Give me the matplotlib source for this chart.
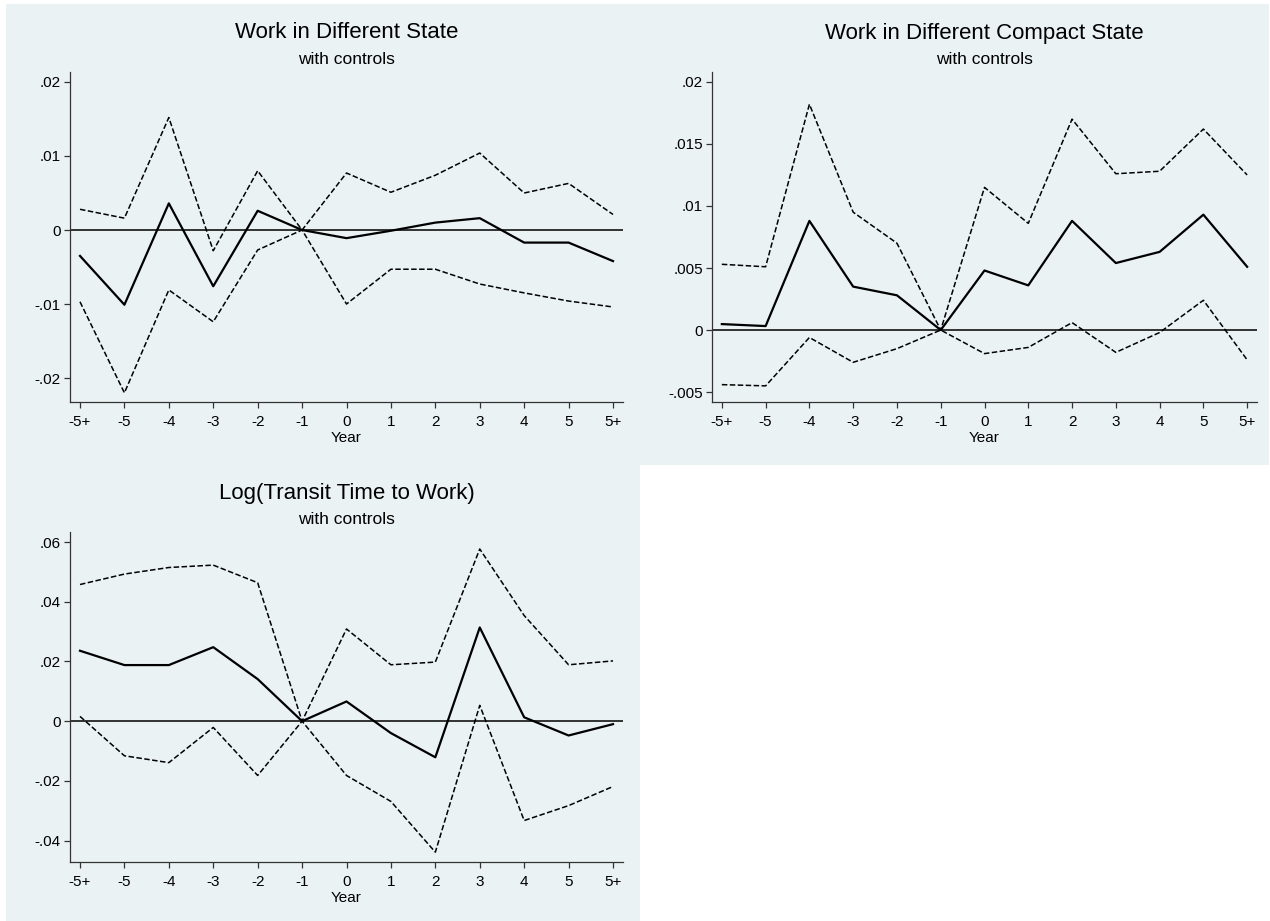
import numpy as np
import matplotlib
matplotlib.use("Agg")
import matplotlib.pyplot as plt
from matplotlib.patches import Rectangle

plt.rcParams['font.family'] = ['Liberation Sans', 'DejaVu Sans']

# event-time categories (x axis)
years = ["-5+", "-5", "-4", "-3", "-2", "-1", "0", "1", "2", "3", "4", "5", "5+"]

# Work in Different State
st_est = [-0.0035, -0.0101, 0.0036, -0.0076, 0.0026, 0.0, -0.0011, -0.0001, 0.0010, 0.0016, -0.0017, -0.0017, -0.0042]
st_hi = [0.0028, 0.0016, 0.0152, -0.0028, 0.0080, 0.0, 0.0077, 0.0051, 0.0074, 0.0104, 0.0050, 0.0063, 0.0021]
st_lo = [-0.0097, -0.0220, -0.0081, -0.0124, -0.0027, 0.0, -0.0100, -0.0053, -0.0053, -0.0073, -0.0085, -0.0096, -0.0104]

# Work in Different Compact State
cs_est = [0.00048, 0.00032, 0.0088, 0.0035, 0.0028, 0.0, 0.0048, 0.0036, 0.0088, 0.0054, 0.0063, 0.0093, 0.0051]
cs_hi = [0.0053, 0.0051, 0.0182, 0.0095, 0.0070, 0.0, 0.0115, 0.0086, 0.0170, 0.0126, 0.0128, 0.0162, 0.0125]
cs_lo = [-0.0044, -0.0045, -0.0006, -0.0026, -0.0015, 0.0, -0.0019, -0.0014, 0.0006, -0.0018, -0.0002, 0.0024, -0.0024]

# Log(Transit Time to Work)
tt_est = [0.0236, 0.0188, 0.0188, 0.0248, 0.0141, 0.0, 0.0066, -0.0040, -0.0121, 0.0314, 0.0013, -0.0048, -0.0010]
tt_hi = [0.0458, 0.0493, 0.0515, 0.0523, 0.0464, 0.0, 0.0309, 0.0189, 0.0198, 0.0577, 0.0354, 0.0189, 0.0202]
tt_lo = [0.0016, -0.0116, -0.0139, -0.0021, -0.0182, 0.0, -0.0182, -0.0269, -0.0439, 0.0053, -0.0333, -0.0283, -0.0219]

st_ticks = [-0.02, -0.01, 0, 0.01, 0.02]
st_labels = ["-.02", "-.01", "0", ".01", ".02"]
cs_ticks = [-0.005, 0, 0.005, 0.01, 0.015, 0.02]
cs_labels = ["-.005", "0", ".005", ".01", ".015", ".02"]
tt_ticks = [-0.04, -0.02, 0, 0.02, 0.04, 0.06]
tt_labels = ["-.04", "-.02", "0", ".02", ".04", ".06"]

W, H = 1270, 921
bg = '#EAF2F3'

fig = plt.figure(figsize=(W/100, H/100), dpi=100, facecolor='white')

def px_rect(x0, y0, x1, y1):
    # pixel box (top-left origin) -> figure fraction [l, b, w, h]
    return [x0/W, 1 - y1/H, (x1 - x0)/W, (y1 - y0)/H]

# panel backgrounds
for r in [px_rect(6, 4, 1269, 465), px_rect(6, 465, 640, 921)]:
    fig.add_artist(Rectangle((r[0], r[1]), r[2], r[3], transform=fig.transFigure,
                             facecolor=bg, edgecolor='none', zorder=0))

def panel(box, title, est, hi, lo, ylim, yt, ytl):
    ax = fig.add_axes(px_rect(*box))
    ax.set_facecolor(bg)
    ax.patch.set_alpha(0)
    xv = np.arange(len(years))
    ax.axhline(0, color='black', lw=1.1, zorder=1)
    ax.plot(xv, hi, color='black', lw=1.1, dashes=(3.6, 1.6))
    ax.plot(xv, lo, color='black', lw=1.1, dashes=(3.6, 1.6))
    ax.plot(xv, est, color='black', lw=1.6)
    ax.set_xlim(-0.225, 12.225)
    ax.set_ylim(*ylim)
    ax.set_xticks(xv)
    ax.set_xticklabels(years)
    ax.set_yticks(yt)
    ax.set_yticklabels(ytl)
    for s in ['top', 'right']:
        ax.spines[s].set_visible(False)
    for s in ['left', 'bottom']:
        ax.spines[s].set_color('#333333')
        ax.spines[s].set_linewidth(0.9)
    ax.tick_params(axis='both', length=4.5, width=0.9, color='#333333', labelsize=11, pad=2)
    ax.tick_params(axis='x', pad=5)
    ax.set_xlabel("Year", fontsize=11, labelpad=1)
    x0, y0, x1, y1 = box
    xc = (x0 + x1) / 2 / W
    fig.text(xc, 1 - (y0 - 39)/H, title, ha='center', va='center', fontsize=16)
    fig.text(xc, 1 - (y0 - 13)/H, "with controls", ha='center', va='center', fontsize=12.5)
    return ax

panel((70, 72, 623, 402), "Work in Different State", st_est, st_hi, st_lo,
      (-0.02324, 0.02135), st_ticks, st_labels)
panel((712, 72, 1257, 402), "Work in Different Compact State", cs_est, cs_hi, cs_lo,
      (-0.0058, 0.0208), cs_ticks, cs_labels)
panel((70, 532, 623, 862), "Log(Transit Time to Work)", tt_est, tt_hi, tt_lo,
      (-0.0472, 0.0634), tt_ticks, tt_labels)

fig.savefig("out.png", dpi=100, facecolor='white')
